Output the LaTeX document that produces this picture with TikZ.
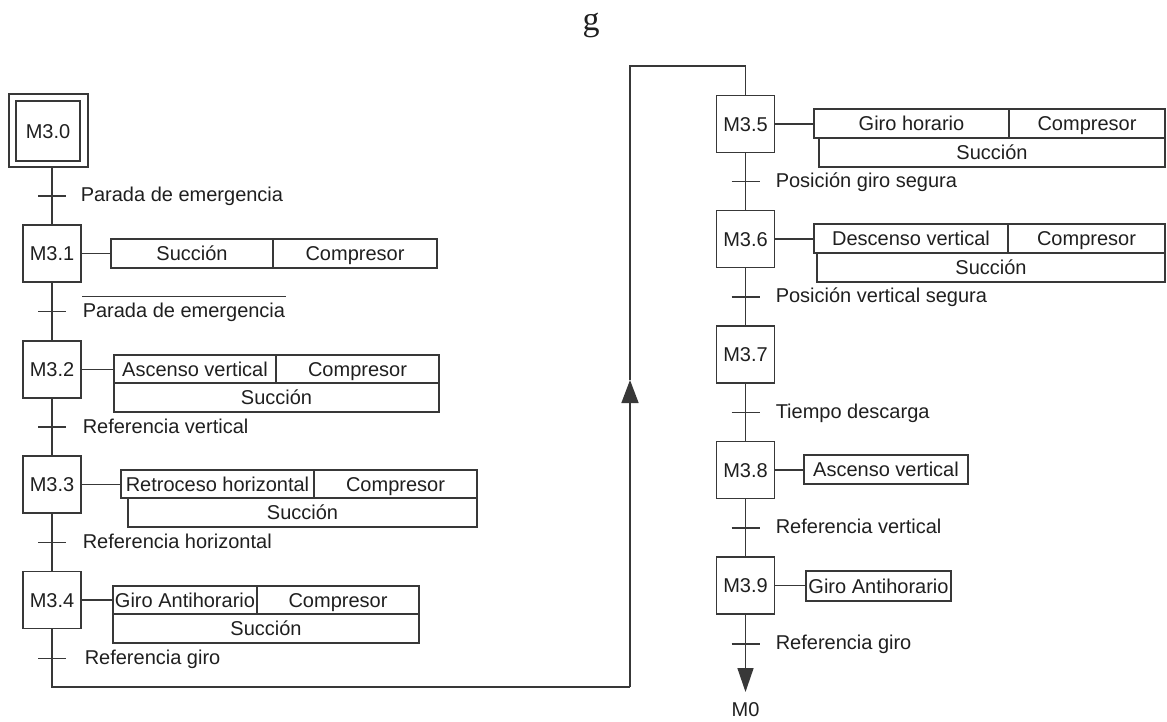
\documentclass[tikz,border=0pt]{standalone}
\usepackage{fontspec}
\setmainfont{Liberation Sans}
\newfontfamily\serifg{Liberation Serif}
\usetikzlibrary{arrows.meta,calc}
\colorlet{lncol}{black!78}
\colorlet{txtcol}{black!88}

\begin{document}
\begin{tikzpicture}[x=1pt,y=-1pt,
  line width=1.5pt, color=lncol,
  every node/.style={font=\fontsize{20}{24}\selectfont, text=txtcol},
  stepbox/.style={draw=lncol, minimum width=58pt, minimum height=57pt, inner sep=0pt,
                  text height=14.3pt, text depth=0pt},
  cell/.style={draw=lncol, minimum height=29pt, inner sep=0pt,
               text height=14.3pt, text depth=0pt},
  cond/.style={anchor=base west, inner sep=0pt},
  tickmark/.style={line width=1.5pt},
  up/.style={-{Triangle[length=23pt,width=17pt]}},
  down/.style={-{Triangle[length=24pt,width=16pt]}}
]
\useasboundingbox (0,0) rectangle (1167,722);

% heading letter
\node[anchor=base, inner sep=0pt, font=\serifg\fontsize{34}{40}\selectfont] (title) at (591,31) {g};

% ---------- left column: steps ----------
\node[stepbox, minimum width=79pt, minimum height=73pt] (m30) at (48.5,130.5) {};
\node[stepbox, minimum width=64pt, minimum height=60pt] (m30i) at (48,131) {M3.0};
\node[stepbox] (m31) at (52,253.5) {M3.1};
\node[stepbox] (m32) at (52,369.5) {M3.2};
\node[stepbox] (m33) at (52,484.5) {M3.3};
\node[stepbox] (m34) at (52,600) {M3.4};

% ---------- right column: steps ----------
\node[stepbox] (m35) at (745.5,124) {M3.5};
\node[stepbox] (m36) at (745.5,239) {M3.6};
\node[stepbox] (m37) at (745.5,354.5) {M3.7};
\node[stepbox] (m38) at (745.5,470) {M3.8};
\node[stepbox] (m39) at (745.5,585.5) {M3.9};

% ---------- actions ----------
\node[cell, minimum width=162pt] (a31a) at (192,253.5) {Succión};
\node[cell, minimum width=164pt] (a31b) at (355,253.5) {Compresor};

\node[cell, minimum width=162pt, minimum height=28pt] (a32a) at (195,369) {Ascenso vertical};
\node[cell, minimum width=163pt, minimum height=28pt] (a32b) at (357.5,369) {Compresor};
\node[cell, minimum width=325pt] (a32c) at (276.5,397.5) {Succión};

\node[cell, minimum width=193pt, minimum height=28pt] (a33a) at (217.5,484) {Retroceso horizontal};
\node[cell, minimum width=163pt, minimum height=28pt] (a33b) at (395.5,484) {Compresor};
\node[cell, minimum width=349pt] (a33c) at (302.5,512.5) {Succión};

\node[cell, minimum width=144pt, minimum height=28pt] (a34a) at (185,600) {Giro Antihorario};
\node[cell, minimum width=162pt, minimum height=28pt] (a34b) at (338,600) {Compresor};
\node[cell, minimum width=306pt] (a34c) at (266,628.5) {Succión};

\node[cell, minimum width=195pt] (a35a) at (911.5,123.5) {Giro horario};
\node[cell, minimum width=156pt] (a35b) at (1087,123.5) {Compresor};
\node[cell, minimum width=346pt] (a35c) at (992,152.5) {Succión};

\node[cell, minimum width=194pt] (a36a) at (911,238.5) {Descenso vertical};
\node[cell, minimum width=157pt] (a36b) at (1086.5,238.5) {Compresor};
\node[cell, minimum width=348pt] (a36c) at (991,267.5) {Succión};

\node[cell, minimum width=164pt] (a38) at (886,469.5) {Ascenso vertical};
\node[cell, minimum width=145pt, minimum height=30pt] (a39) at (878.5,586) {Giro Antihorario};

% step-to-action links
\foreach \s/\a in {m31/a31a, m32/a32a, m33/a33a, m34/a34a, m35/a35a, m36/a36a, m38/a38, m39/a39}
  \draw (\s.east) -- (\s.east -| \a.west);

% ---------- left spine with transitions ----------
\coordinate (s0) at (m30.south -| m31.north);
\draw (s0) -- (m31.north);
\draw (m31.south) -- (m32.north);
\draw (m32.south) -- (m33.north);
\draw (m33.south) -- (m34.north);

\coordinate (t0) at ($(s0)!0.5!(m31.north)$);
\coordinate (t1) at ($(m31.south)!0.5!(m32.north)$);
\coordinate (t2) at ($(m32.south)!0.5!(m33.north)$);
\coordinate (t3) at ($(m33.south)!0.5!(m34.north)$);
\coordinate (t4) at ([yshift=-29pt]m34.south);

% ---------- right spine with transitions ----------
\draw (m35.south) -- (m36.north);
\draw (m36.south) -- (m37.north);
\draw (m37.south) -- (m38.north);
\draw (m38.south) -- (m39.north);

\coordinate (t5) at ($(m35.south)!0.5!(m36.north)$);
\coordinate (t6) at ($(m36.south)!0.5!(m37.north)$);
\coordinate (t7) at ($(m37.south)!0.5!(m38.north)$);
\coordinate (t8) at ($(m38.south)!0.5!(m39.north)$);
\coordinate (t9) at ([yshift=-29pt]m39.south);

\foreach \t in {t0,t1,t2,t3,t4,t5,t6,t7,t8,t9}
  \draw[tickmark] ([xshift=-14pt]\t) -- ([xshift=14pt]\t);

% transition conditions
\node[cond] (c0) at ([xshift=28pt,yshift=-6pt]t0) {Parada de emergencia};
\node[cond] (c1) at ([xshift=30pt,yshift=-6pt]t1) {Parada de emergencia};
\draw[line width=1.2pt] ([yshift=5.5pt]c1.north west) -- ([yshift=5.5pt]c1.north east);
\node[cond] (c2) at ([xshift=30pt,yshift=-6pt]t2) {Referencia vertical};
\node[cond] (c3) at ([xshift=30pt,yshift=-6pt]t3) {Referencia horizontal};
\node[cond] (c4) at ([xshift=32pt,yshift=-6pt]t4) {Referencia giro};
\node[cond] (c5) at ([xshift=29.5pt,yshift=-6pt]t5) {Posición giro segura};
\node[cond] (c6) at ([xshift=29.5pt,yshift=-6pt]t6) {Posición vertical segura};
\node[cond] (c7) at ([xshift=29.5pt,yshift=-6pt]t7) {Tiempo descarga};
\node[cond] (c8) at ([xshift=29.5pt,yshift=-6pt]t8) {Referencia vertical};
\node[cond] (c9) at ([xshift=29.5pt,yshift=-6pt]t9) {Referencia giro};

% ---------- return loop from M3.4 to M3.5 ----------
\coordinate (lb) at (630,687);
\coordinate (la) at (630,380);
\coordinate (lt) at (630,66);
\coordinate (rt) at (745.5,66);
\draw (m34.south) -- (m34.south |- lb) -- (lb);
\draw[up] (lb) -- (la);
\draw (la) -- (lt) -- (rt) -- (m35.north);

% ---------- exit to M0 ----------
\coordinate (m0tip) at (745.5,692);
\draw[down] (m39.south) -- (m0tip);
\node[inner sep=0pt] (m0) at (745.5,710) {M0};

\end{tikzpicture}
\end{document}
